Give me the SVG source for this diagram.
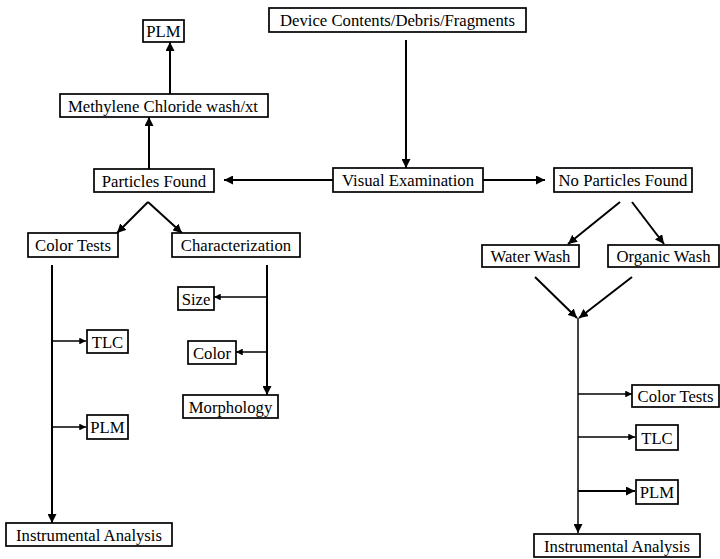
<svg xmlns="http://www.w3.org/2000/svg" width="720" height="559" viewBox="0 0 720 559">
<defs>
<marker id="ah" viewBox="0 0 10 10" refX="10" refY="5" markerWidth="4.5" markerHeight="4.5" orient="auto" markerUnits="strokeWidth"><path d="M0,0 L10,5 L0,10 z" fill="#000"/></marker>
</defs>
<style>
.b{fill:#fff;stroke:#000;stroke-width:1.7}
text{font-family:'Liberation Serif','DejaVu Serif',serif;font-size:16.7px;fill:#000;text-anchor:middle;dominant-baseline:central}
.c line{stroke:#000;stroke-width:2;fill:none}
.c .a{marker-end:url(#ah)}
</style>
<rect width="720" height="559" fill="#fff"/>
<g class="c" id="connectors">
<line class="a" x1="406" y1="40" x2="406" y2="168"/>
<line class="a" x1="333" y1="180" x2="224" y2="180"/>
<line class="a" x1="483" y1="180" x2="545" y2="180"/>
<line class="a" x1="149" y1="169" x2="149" y2="117"/>
<line class="a" x1="170" y1="94" x2="170" y2="42"/>
<line class="a" x1="148" y1="202" x2="117" y2="233"/>
<line class="a" x1="148" y1="202" x2="182" y2="233"/>
<line class="a" x1="52" y1="265" x2="52" y2="523"/>
<line class="a" x1="52" y1="341" x2="86" y2="341" style="stroke-width:1.5"/>
<line class="a" x1="52" y1="427" x2="86" y2="427" style="stroke-width:1.5"/>
<line class="a" x1="267" y1="265" x2="267" y2="395"/>
<line class="a" x1="267" y1="297" x2="214" y2="297" style="stroke-width:1.5"/>
<line class="a" x1="267" y1="352" x2="236" y2="352" style="stroke-width:1.5"/>
<line class="a" x1="620" y1="202" x2="568" y2="244"/>
<line class="a" x1="632" y1="202" x2="664" y2="244"/>
<line class="a" x1="535" y1="277" x2="577" y2="318"/>
<line class="a" x1="632" y1="277" x2="579" y2="318"/>
<line class="a" x1="578" y1="318" x2="578" y2="533" style="stroke:#444"/>
<line class="a" x1="578" y1="394" x2="632" y2="394" style="stroke-width:1.5"/>
<line class="a" x1="578" y1="437" x2="635" y2="437" style="stroke-width:1.5"/>
<line class="a" x1="578" y1="491" x2="635" y2="491"/>
</g>
<g id="device"><rect class="b" x="269" y="8" width="257" height="24"/><text x="397.5" y="20.5">Device Contents/Debris/Fragments</text></g>
<g id="visual"><rect class="b" x="333" y="168" width="150" height="24"/><text x="408" y="180.5">Visual Examination</text></g>
<g id="particles"><rect class="b" x="94" y="169" width="120" height="23"/><text x="154" y="181">Particles Found</text></g>
<g id="noparticles"><rect class="b" x="554" y="168" width="138" height="24"/><text x="623" y="180.5">No Particles Found</text></g>
<g id="methylene"><rect class="b" x="60" y="94" width="208" height="23"/><text x="163" y="106">Methylene Chloride wash/xt</text></g>
<g id="plm-top"><rect class="b" x="143" y="20" width="41" height="22"/><text x="163.5" y="31.5">PLM</text></g>
<g id="colortests-left"><rect class="b" x="28" y="233" width="90" height="24"/><text x="73" y="245.5">Color Tests</text></g>
<g id="characterization"><rect class="b" x="172" y="233" width="128" height="24"/><text x="236" y="245.5">Characterization</text></g>
<g id="tlc-left"><rect class="b" x="87" y="330" width="41" height="23"/><text x="107.5" y="342">TLC</text></g>
<g id="plm-left"><rect class="b" x="87" y="415" width="41" height="24"/><text x="107.5" y="427.5">PLM</text></g>
<g id="instrumental-left"><rect class="b" x="6" y="523" width="166" height="23"/><text x="89" y="535">Instrumental Analysis</text></g>
<g id="size"><rect class="b" x="178" y="287" width="36" height="23"/><text x="196" y="299">Size</text></g>
<g id="color"><rect class="b" x="188" y="341" width="48" height="23"/><text x="212" y="353">Color</text></g>
<g id="morphology"><rect class="b" x="183" y="395" width="95" height="23"/><text x="230.5" y="407">Morphology</text></g>
<g id="waterwash"><rect class="b" x="482" y="245" width="97" height="22"/><text x="530.5" y="256.5">Water Wash</text></g>
<g id="organicwash"><rect class="b" x="608" y="245" width="111" height="22"/><text x="663.5" y="256.5">Organic Wash</text></g>
<g id="colortests-right"><rect class="b" x="632" y="385" width="87" height="22"/><text x="675.5" y="396.5">Color Tests</text></g>
<g id="tlc-right"><rect class="b" x="636" y="425" width="42" height="25"/><text x="657" y="438">TLC</text></g>
<g id="plm-right"><rect class="b" x="636" y="480" width="42" height="24"/><text x="657" y="492.5">PLM</text></g>
<g id="instrumental-right"><rect class="b" x="534" y="534" width="166" height="23"/><text x="617" y="546">Instrumental Analysis</text></g>
</svg>
